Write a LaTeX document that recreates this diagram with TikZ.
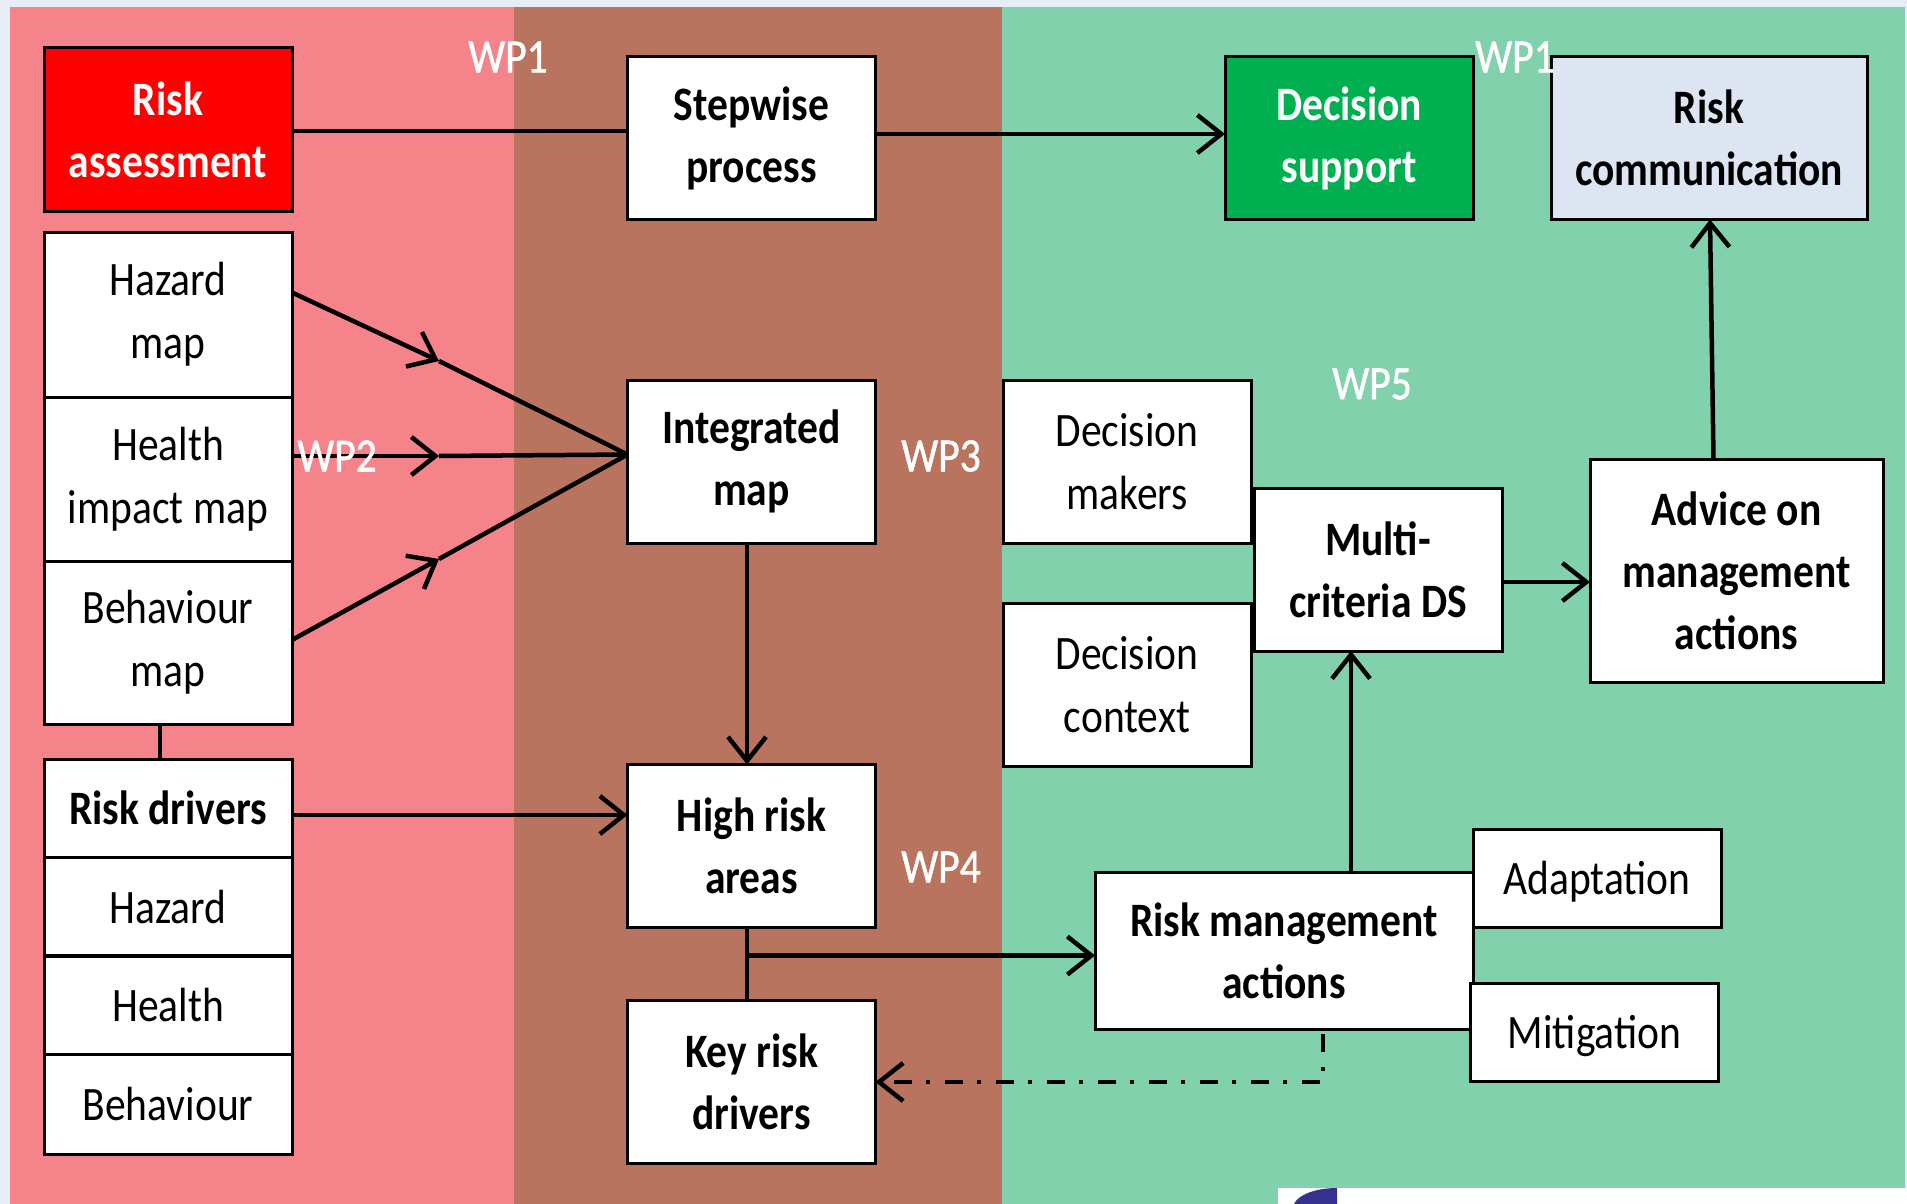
\documentclass[tikz,border=0pt]{standalone}
\usepackage{fontspec}
\setmainfont[FakeStretch=0.865]{Carlito}
\newfontfamily\wpfont[FakeStretch=0.865,FakeBold=1]{Carlito}
\usetikzlibrary{arrows.meta,calc}

\definecolor{pageBg}{HTML}{E7EDF6}
\definecolor{panelRed}{HTML}{F4848A}
\definecolor{panelBrown}{HTML}{B8745E}
\definecolor{panelGreen}{HTML}{82D1AD}
\definecolor{boxGreen}{HTML}{00B050}
\definecolor{boxBlue}{HTML}{DCE5F1}
\definecolor{logoBlue}{HTML}{36318F}

\begin{document}
\begin{tikzpicture}[
  x=1pt,y=-1pt,
  >={Straight Barb[length=24pt,width=38pt,line width=4.5pt]},
  line width=4.5pt,
  box/.style={draw=black,line width=3pt,fill=white,align=center,inner sep=0pt,outer sep=0pt,
    minimum width=248pt,minimum height=163pt,font=\fontsize{48}{63}\selectfont},
  bbox/.style={box,font=\fontsize{48}{62}\selectfont\bfseries},
  thinbox/.style={box,minimum height=98pt,text depth=0pt},
  wp/.style={text=white,font=\fontsize{48}{62}\wpfont,inner sep=0pt}
]

% --- Background panels
\fill[pageBg] (0,0) rectangle (1907,1204);
\fill[panelRed] (10,7) rectangle (514,1204);
\fill[panelBrown] (514,7) rectangle (1002,1204);
\fill[panelGreen] (1002,7) rectangle (1905,1204);

% --- Corner of the logo at the bottom
\fill[white] (1278,1188) rectangle (1907,1204);
\fill[logoBlue] (1294,1204) .. controls (1298,1195) and (1315,1188) .. (1337,1188) -- (1337,1204) -- cycle;

% --- Top row
\node[bbox,fill=red,text=white] (riskAssess) at (168,129.5) {Risk\\assessment};
\node[bbox] (stepwise) at (751.5,138) {Stepwise\\process};
\node[bbox,fill=boxGreen,text=white] (decSupport) at (1349,138) {Decision\\support};
\node[bbox,fill=boxBlue,minimum width=316pt] (riskComm) at (1709,138) {Risk\\communication};

% --- Left column
\node[box,minimum height=165pt] (hazardMap) at (168,314.5) {Hazard\\map};
\node[box,minimum height=164pt] (healthMap) at (168,479) {Health\\impact map};
\node[box] (behavMap) at (168,642.5) {Behaviour\\map};
\node[bbox,minimum height=98pt,text depth=0pt] (riskDrivers) at (168,808) {Risk drivers};
\node[thinbox] (hazard) at (168,906.5) {Hazard};
\node[thinbox] (health) at (168,1005) {Health};
\node[thinbox,minimum height=100pt] (behav) at (168,1104) {Behaviour};

% --- Middle column
\node[bbox] (intMap) at (751.5,461.5) {Integrated\\map};
\node[bbox] (highRisk) at (751.5,846) {High risk\\areas};
\node[bbox] (keyRisk) at (751.5,1082) {Key risk\\drivers};

% --- Right part
\node[box] (decMakers) at (1127,461.5) {Decision\\makers};
\node[box] (decContext) at (1127,685) {Decision\\context};
\node[bbox] (multi) at (1378,569.5) {Multi-\\criteria DS};
\node[bbox,minimum width=293pt,minimum height=223pt] (advice) at (1736.5,570.5) {Advice on\\management\\actions};
\node[bbox,minimum width=378pt,minimum height=157pt] (riskMgmt) at (1284,950.5) {Risk management\\actions};
\node[thinbox] (adaptation) at (1597,878) {Adaptation};
\node[thinbox] (mitigation) at (1594.5,1032) {Mitigation};

% --- Top row connectors
\draw ([yshift=-1.5pt]riskAssess.east) -- ([yshift=7pt]stepwise.west);
\draw[->] ([yshift=4pt]stepwise.east) -- ([yshift=4pt]decSupport.west);

% --- Map arrows stop half way, plain lines run on to the integrated map
\coordinate (hazardMid) at (439,361);
\coordinate (healthMid) at (439,456);
\coordinate (behavMid) at (439,559);
\draw[->] ([yshift=22pt]hazardMap.east) -- (hazardMid);
\draw[->] ([yshift=23pt]healthMap.east) -- (healthMid);
\draw[->] ([yshift=2.5pt]behavMap.east) -- (behavMid);
\draw (hazardMid) -- ([yshift=7pt]intMap.west);
\draw (healthMid) -- ([yshift=7pt]intMap.west);
\draw (behavMid) -- ([yshift=7pt]intMap.west);

% --- Down the middle
\draw[->] ([xshift=-4.5pt]intMap.south) -- ([xshift=-4.5pt]highRisk.north);
\draw ([xshift=-8pt]behavMap.south) -- ([xshift=-8pt]riskDrivers.north);
\draw[->] ([yshift=-7pt]riskDrivers.east) -- ([yshift=31pt]highRisk.west);
\draw ([xshift=-4.5pt]highRisk.south) -- ([xshift=-4.5pt]keyRisk.north);
\coordinate (branch) at ($(highRisk.south)+(-4.5,28)$);
\draw[->] (branch) -- (branch -| riskMgmt.west);

% --- Decision part
\draw[->] ([yshift=-12.5pt]multi.east) -- ([yshift=-11.5pt]advice.west);
\draw[->] ([xshift=-23pt]advice.north) -- ([xshift=1pt]riskComm.south);
\coordinate (mgmtUp) at ($(riskMgmt.north west)+(256,0)$);
\draw[->] (mgmtUp) -- (mgmtUp |- multi.south);

% --- Dash-dotted return
\coordinate (mgmtOut) at ($(riskMgmt.south west)+(228,5)$);
\draw[->,dash pattern=on 18pt off 15pt on 4pt off 14pt] (mgmtOut) -- (mgmtOut |- keyRisk.east) -- (keyRisk.east);

% --- Work package labels
\node[wp] (wpA) at (508,57) {WP1};
\node[wp] (wpB) at (1515,57) {WP1};
\node[wp] (wpC) at (337,456) {WP2};
\node[wp] (wpD) at (941,456) {WP3};
\node[wp] (wpE) at (941,867) {WP4};
\node[wp] (wpF) at (1372,384) {WP5};

\end{tikzpicture}
\end{document}
